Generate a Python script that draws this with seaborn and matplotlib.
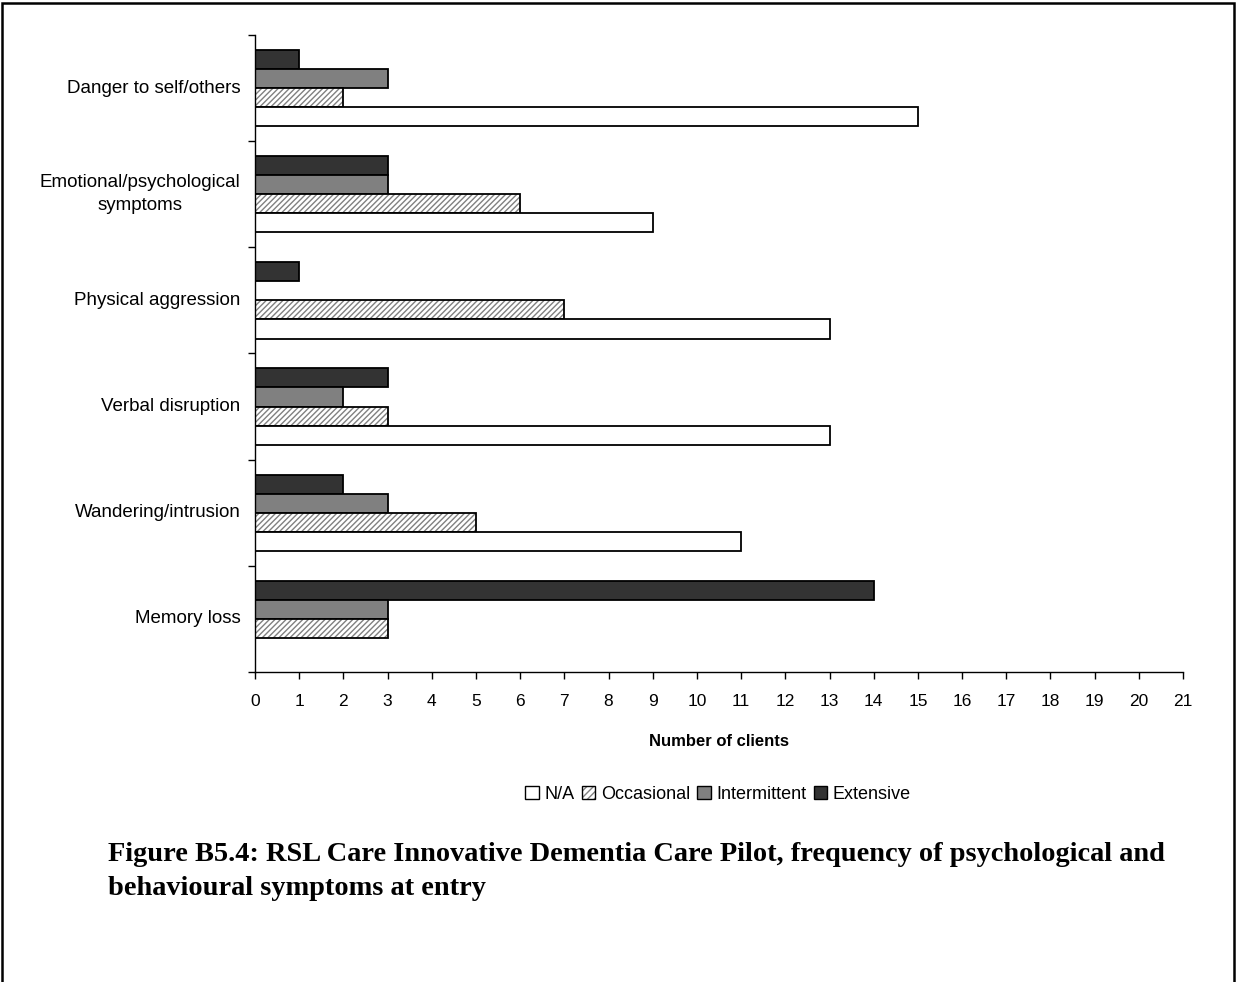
import pandas as pd
import numpy as np
import matplotlib
matplotlib.use("Agg")
import matplotlib.pyplot as plt
import matplotlib.patches as mpatches
from matplotlib.ticker import FixedLocator
import seaborn as sns

# categories top to bottom
symptoms = ["Danger to self/others", "Emotional/psychological\nsymptoms",
            "Physical aggression", "Verbal disruption",
            "Wandering/intrusion", "Memory loss"]
levels = ["Extensive", "Intermittent", "Occasional", "N/A"]

extensive = [1, 3, 1, 3, 2, 14]
intermittent = [3, 3, 0, 2, 3, 3]
occasional = [2, 6, 7, 3, 5, 3]
not_applicable = [15, 9, 13, 13, 11, 0]

x_ticks = list(range(0, 22))

rows = []
for lev, vals in zip(levels, [extensive, intermittent, occasional, not_applicable]):
    for s, v in zip(symptoms, vals):
        rows.append({"symptom": s, "level": lev, "clients": v})
df = pd.DataFrame(rows)

sns.set_style("white")
plt.rcParams['font.family'] = ['Liberation Sans', 'DejaVu Sans']
plt.rcParams['text.color'] = 'black'
plt.rcParams['xtick.color'] = 'black'
plt.rcParams['ytick.color'] = 'black'
plt.rcParams['axes.labelcolor'] = 'black'

colors = {"Extensive": "#333333", "Intermittent": "#808080",
          "Occasional": "white", "N/A": "white"}
hatch_grey = (0.5, 0.5, 0.5, 1)

fig = plt.figure(figsize=(12.38, 9.82), dpi=100)
ax = fig.add_axes([0.206, 0.3157, 0.7496, 0.6487])

sns.barplot(data=df, y="symptom", x="clients", hue="level", order=symptoms,
            hue_order=levels, palette=colors, orient="h", width=0.72, gap=0,
            edgecolor="black", linewidth=1.3, legend=False, ax=ax)

# hatch the Occasional bars (grey stripes, black outline)
for p in ax.containers[2]:
    p.set_hatch("//////")
    p.set_edgecolor("black")
    p._hatch_color = hatch_grey
# hide zero-length bars
for cont in ax.containers:
    for p in cont:
        if p.get_width() == 0:
            p.set_visible(False)

ax.set_xlim(0, 21)
ax.set_ylim(len(symptoms) - 0.5, -0.5)
ax.set_xticks(x_ticks)
ax.tick_params(axis="x", labelsize=12.5, length=5, width=1, color="black",
               direction="out", bottom=True, pad=11)
ax.tick_params(axis="y", which="major", length=0, labelsize=13.5, pad=10.5)
ax.yaxis.set_minor_locator(FixedLocator(np.arange(-0.5, len(symptoms), 1)))
ax.tick_params(axis="y", which="minor", length=5, width=1, color="black",
               direction="out", left=True)
for lab in ax.get_yticklabels():
    lab.set_multialignment("center")
    lab.set_linespacing(1.5)
    lab.set_verticalalignment("center")

ax.set_ylabel("")
ax.set_xlabel("Number of clients", fontsize=12, fontweight="bold", labelpad=18)
for side in ["top", "right"]:
    ax.spines[side].set_visible(False)
for side in ["left", "bottom"]:
    ax.spines[side].set_color("black")
    ax.spines[side].set_linewidth(1)

# legend in original order
leg_order = ["N/A", "Occasional", "Intermittent", "Extensive"]
handles = []
for lev in leg_order:
    h = mpatches.Patch(facecolor=colors[lev], edgecolor="black", linewidth=1,
                       hatch="/////" if lev == "Occasional" else None, label=lev)
    if lev == "Occasional":
        h._hatch_color = hatch_grey
    handles.append(h)
fig.legend(handles=handles, loc="center", bbox_to_anchor=(0.58, 0.191),
           ncol=4, frameon=False, fontsize=13, handlelength=0.75,
           handleheight=0.75, handletextpad=0.3, columnspacing=0.4)

fig.text(0.087, 0.1125,
         "Figure B5.4: RSL Care Innovative Dementia Care Pilot, frequency of psychological and\nbehavioural symptoms at entry",
         fontsize=20.4, fontweight="bold", family=["Liberation Serif"],
         ha="left", va="center", linespacing=1.5)

# page frame (top, left, right)
fig.add_artist(mpatches.Rectangle((0.002, -0.1), 0.995, 1.097,
                                  transform=fig.transFigure, fill=False,
                                  edgecolor="black", linewidth=1.8))

fig.savefig("out.png", dpi=100)
